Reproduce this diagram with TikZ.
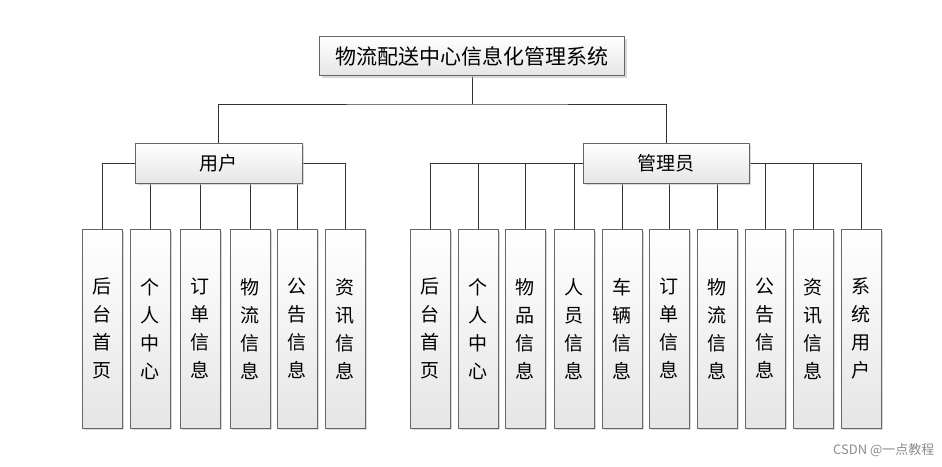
\documentclass[tikz,border=0pt]{standalone}
\usepackage{fontspec}
\setmainfont{Noto Sans CJK SC}
\usetikzlibrary{positioning, shadows, backgrounds}

\tikzset{
  box/.style={draw=black!60, top color=white, bottom color=black!10,
    drop shadow={shadow xshift=2pt, shadow yshift=-2pt, fill=black!25, opacity=.6},
    inner sep=0pt, font=\fontsize{19}{22}\selectfont},
  leaf/.style={box, minimum width=40pt, minimum height=199pt,
    align=center, font=\fontsize{19}{28}\selectfont},
  link/.style={draw=black!80, line width=0.9pt}
}

\begin{document}
\begin{tikzpicture}[x=1pt, y=-1pt]
\useasboundingbox (0,0) rectangle (942,466);

% top level
\node[box, minimum width=305pt, minimum height=39pt, font=\fontsize{21}{24}\selectfont] (sys) at (472,56) {物流配送中心信息化管理系统};
\node[box, minimum width=167pt, minimum height=40pt] (user) at (218.5,163) {用户};
\node[box, minimum width=166pt, minimum height=40pt] (admin) at (666,163) {管理员};

\begin{scope}[on background layer]
\coordinate (bar) at (472,104);
\draw[link] (sys.south) -- (bar);
\draw[link] (user.north) |- (bar) -| (admin.north);
\end{scope}

% user leaves
\foreach \x/\t [count=\i] in {102/后\\台\\首\\页, 150/个\\人\\中\\心, 200/订\\单\\信\\息,
    250/物\\流\\信\\息, 297/公\\告\\信\\息, 345/资\\讯\\信\\息} {
  \node[leaf, anchor=north] (u\i) at (\x,229) {\t};
  \begin{scope}[on background layer]
  \draw[link] (u\i.north) -- (u\i.north |- user.west);
  \end{scope}
}
\begin{scope}[on background layer]
\draw[link] (u1.north |- user.west) -- (u6.north |- user.east);
\end{scope}

% admin leaves
\foreach \x/\t [count=\i] in {430/后\\台\\首\\页, 478/个\\人\\中\\心, 525/物\\品\\信\\息,
    574/人\\员\\信\\息, 622/车\\辆\\信\\息, 669/订\\单\\信\\息, 717/物\\流\\信\\息,
    765/公\\告\\信\\息, 813/资\\讯\\信\\息, 861/系\\统\\用\\户} {
  \node[leaf, anchor=north] (a\i) at (\x,229) {\t};
  \begin{scope}[on background layer]
  \draw[link] (a\i.north) -- (a\i.north |- admin.west);
  \end{scope}
}
\begin{scope}[on background layer]
\draw[link] (a1.north |- admin.west) -- (a10.north |- admin.east);
\end{scope}

\node[text=black!45, font=\fontsize{13}{15}\selectfont, anchor=east] (mark) at (938,450) {CSDN @一点教程};
\end{tikzpicture}
\end{document}
